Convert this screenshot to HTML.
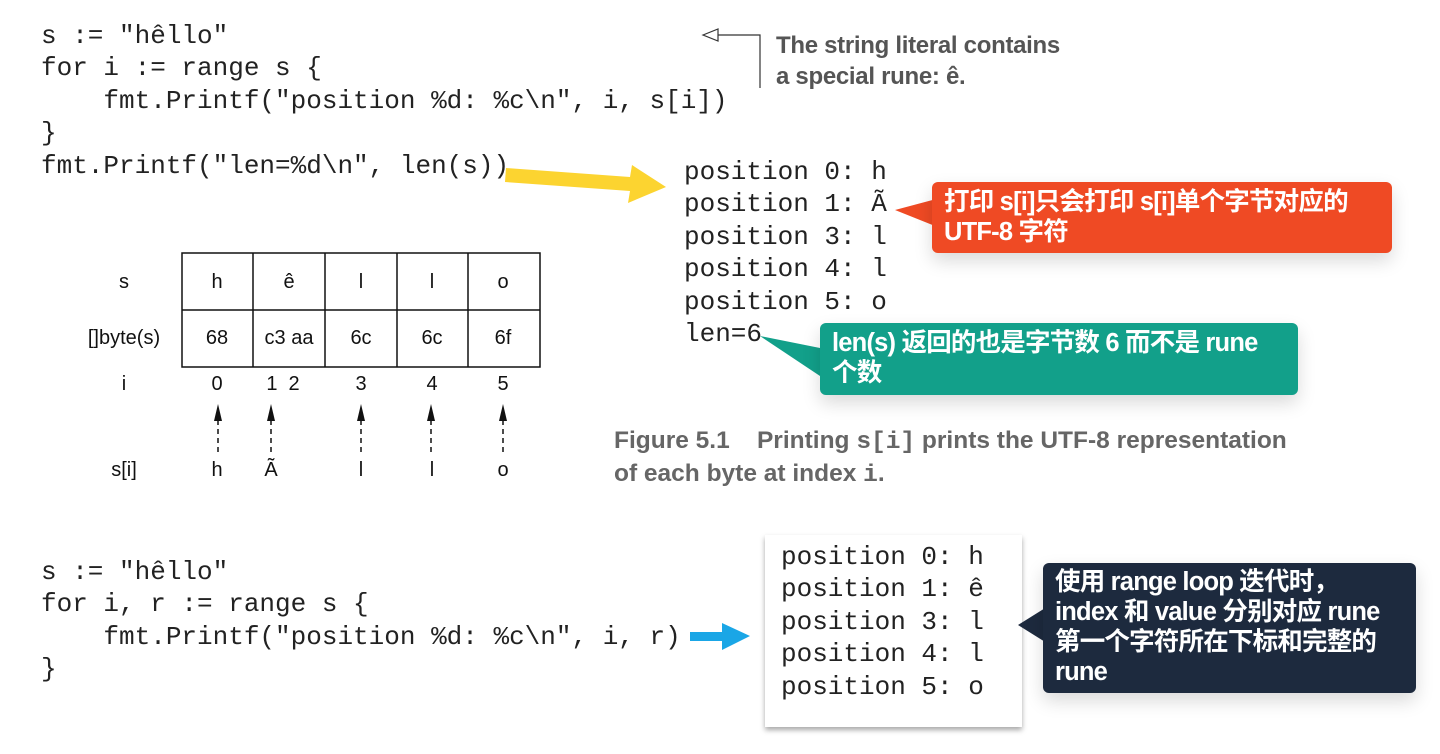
<!DOCTYPE html>
<html><head><meta charset="utf-8"><style>
body{margin:0;width:1440px;height:754px;background:#fff;position:relative;overflow:hidden;font-family:"Liberation Sans","Noto Sans CJK SC",sans-serif}
.code{position:absolute;font-family:"Liberation Mono",monospace;font-size:26px;line-height:32.4px;color:#222;white-space:pre;margin:0}
.t{position:absolute;font-size:20px;color:#111;transform:translateX(-50%);white-space:nowrap}
.note{position:absolute;font-weight:bold;color:#555;font-size:24px;line-height:31px;letter-spacing:-0.3px;white-space:nowrap}
.box{position:absolute;border-radius:6px;color:#fff;font-weight:bold;font-size:25.5px;line-height:30px;padding:5px 12px;box-sizing:border-box;letter-spacing:-0.8px;box-shadow:0 8px 18px rgba(0,0,0,.15);white-space:nowrap}
</style></head><body>
<div class="code" style="left:41px;top:20px">s := "hêllo"
for i := range s {
    fmt.Printf("position %d: %c\n", i, s[i])
}
fmt.Printf("len=%d\n", len(s))</div>
<div class="code" style="left:684px;top:156px;font-size:26px">position 0: h
position 1: Ã
position 3: l
position 4: l
position 5: o
len=6</div>
<div class="code" style="left:41px;top:556px">s := "hêllo"
for i, r := range s {
    fmt.Printf("position %d: %c\n", i, r)
}</div>
<div style="position:absolute;left:765px;top:535px;width:257px;height:192px;background:#fff;box-shadow:0 3px 5px rgba(0,0,0,.35)"></div>
<div class="code" style="left:781px;top:541px;font-size:26px">position 0: h
position 1: ê
position 3: l
position 4: l
position 5: o</div>
<div class="note" style="left:776px;top:30px">The string literal contains<br>a special rune: ê.</div>
<div class="note" style="left:614px;top:425px;color:#666;font-size:24.5px;letter-spacing:0">Figure 5.1&nbsp;&nbsp;&nbsp; Printing <span style="font-family:'Liberation Mono',monospace">s[i]</span> prints the UTF-8 representation<br>of each byte at index <span style="font-family:'Liberation Mono',monospace">i</span>.</div>
<svg width="1440" height="754" style="position:absolute;left:0;top:0">
<polyline points="718,35 760,35 760,88" fill="none" stroke="#333" stroke-width="1.2"/>
<polygon points="703,35 718,29 718,41" fill="#fff" stroke="#333" stroke-width="1.2"/>
<polygon points="506,168 630,177 632,165 666,187 628,203 630,191 505,182" fill="#fcd430"/>
<polygon points="690,632 722,632 722,623 750,636 722,650 722,641 690,641" fill="#1aa6e6"/>
<polygon points="895,210 940,198 940,228" fill="#ef4a24"/>
<polygon points="760,336 830,350 826,380" fill="#12a08a"/>
<polygon points="1018,625 1050,605 1050,645" fill="#1d2a3e"/>
<g stroke="#111" stroke-width="1.5" fill="none">
<rect x="182" y="253" width="358" height="114"/>
<line x1="182" y1="310" x2="540" y2="310"/>
<line x1="253" y1="253" x2="253" y2="367"/><line x1="325" y1="253" x2="325" y2="367"/>
<line x1="397" y1="253" x2="397" y2="367"/><line x1="468" y1="253" x2="468" y2="367"/>
</g>
<g stroke="#111" stroke-width="1.5" stroke-dasharray="5,4">
<line x1="218" y1="420" x2="218" y2="455"/><line x1="271" y1="420" x2="271" y2="455"/>
<line x1="361" y1="420" x2="361" y2="455"/><line x1="431" y1="420" x2="431" y2="455"/><line x1="503" y1="420" x2="503" y2="455"/>
</g>
<g fill="#111">
<polygon points="218,404 214,421 222,421"/><polygon points="271,404 267,421 275,421"/>
<polygon points="361,404 357,421 365,421"/><polygon points="431,404 427,421 435,421"/><polygon points="503,404 499,421 507,421"/>
</g>
</svg>
<div class="t" style="left:124px;top:271px">s</div>
<div class="t" style="left:124px;top:327px">[]byte(s)</div>
<div class="t" style="left:124px;top:373px">i</div>
<div class="t" style="left:124px;top:459px">s[i]</div>
<div class="t" style="left:217px;top:271px">h</div><div class="t" style="left:289px;top:271px">ê</div><div class="t" style="left:361px;top:271px">l</div><div class="t" style="left:432px;top:271px">l</div><div class="t" style="left:503px;top:271px">o</div>
<div class="t" style="left:217px;top:327px">68</div><div class="t" style="left:289px;top:327px">c3 aa</div><div class="t" style="left:361px;top:327px">6c</div><div class="t" style="left:432px;top:327px">6c</div><div class="t" style="left:503px;top:327px">6f</div>
<div class="t" style="left:217px;top:373px">0</div><div class="t" style="left:283px;top:373px">1&nbsp;&nbsp;2</div><div class="t" style="left:361px;top:373px">3</div><div class="t" style="left:432px;top:373px">4</div><div class="t" style="left:503px;top:373px">5</div>
<div class="t" style="left:217px;top:459px">h</div><div class="t" style="left:271px;top:459px">Ã</div><div class="t" style="left:361px;top:459px">l</div><div class="t" style="left:432px;top:459px">l</div><div class="t" style="left:503px;top:459px">o</div>
<div class="box" style="left:932px;top:182px;width:460px;height:71px;background:#ef4a24">打印 s[i]只会打印 s[i]单个字节对应的<br>UTF-8 字符</div>
<div class="box" style="left:820px;top:323px;width:478px;height:72px;background:#12a08a">len(s) 返回的也是字节数 6 而不是 rune<br>个数</div>
<div class="box" style="left:1043px;top:563px;width:373px;height:130px;background:#1d2a3e;padding-top:4px">使用 range loop 迭代时，<br>index 和 value 分别对应 rune<br>第一个字符所在下标和完整的<br>rune</div>
</body></html>
